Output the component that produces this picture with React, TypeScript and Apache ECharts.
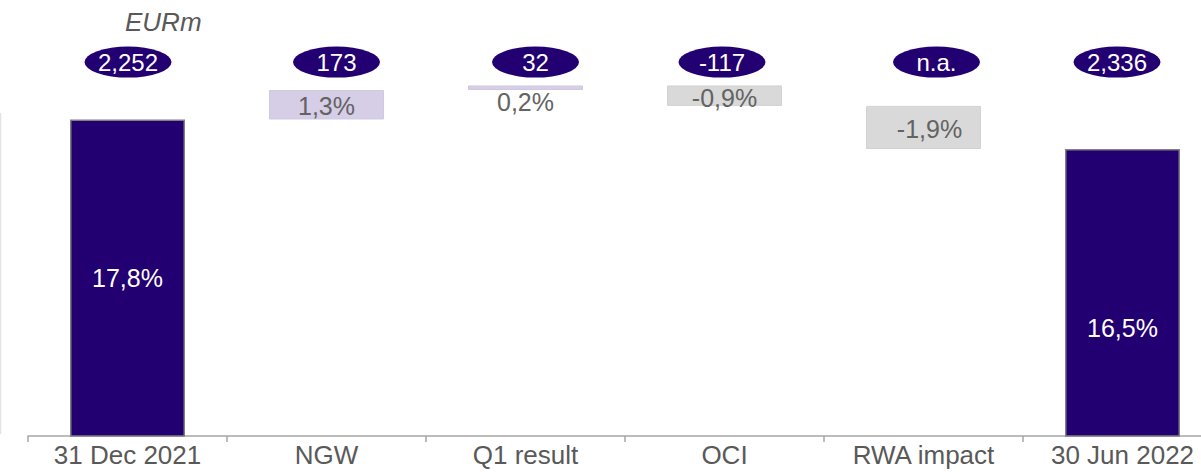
import React, { useEffect, useRef } from "react";
import * as echarts from "echarts";

// ---- data ----
const categories = ["31 Dec 2021", "NGW", "Q1 result", "OCI", "RWA impact", "30 Jun 2022"];
// CET1 ratio movements (percentage points); first and last are totals
const changes = [17.8, 1.3, 0.2, -0.9, -1.9, 16.5];
const isTotal = [true, false, false, false, false, true];
// capital amounts shown in the bubbles (EURm)
const capitalLabels = ["2,252", "173", "32", "-117", "n.a.", "2,336"];
const bubbleLevel = 20.33;
const unitLabel = "EURm";

// ---- styles ----
const FONT = "Liberation Sans, Arial, sans-serif";
const NAVY = "#230072";
const INC = "#d5cee6";
const DEC = "#d9d9d9";
const TEXT = "#595959";
const bubbleOffsets = [0.5, 10, 10, -2.5, 13, -5.5];
const labelTweaks: any[] = [
  { position: "inside", offset: [0, 0] },
  { position: "inside", offset: [0, 1] },
  { position: "bottom", distance: 0, offset: [0, 0] },
  { position: "inside", offset: [0, 2] },
  { position: "inside", offset: [6, 2] },
  { position: "inside", offset: [0, 35] },
];

function fmtPct(v: number) {
  return v.toFixed(1).replace(".", ",") + "%";
}

export default function App() {
  const ref = useRef<HTMLDivElement>(null);

  useEffect(() => {
    if (!ref.current) return;
    const chart = echarts.init(ref.current, undefined, { renderer: "svg" });

    // waterfall construction
    const base: number[] = [];
    const heights: number[] = [];
    let running = 0;
    changes.forEach((c, i) => {
      if (isTotal[i]) {
        base.push(0);
        heights.push(c);
        running = c;
      } else if (c >= 0) {
        base.push(running);
        heights.push(c);
        running += c;
      } else {
        running += c;
        base.push(running);
        heights.push(-c);
      }
    });

    const visibleData = heights.map((h, i) => {
      const total = isTotal[i];
      const color = total ? NAVY : changes[i] >= 0 ? INC : DEC;
      return {
        value: h,
        itemStyle: {
          color,
          borderColor: total ? "#7f7f7f" : color === INC ? "#cfc8e0" : "#d2d2d2",
          borderWidth: total ? 1.5 : 1,
        },
        label: {
          show: true,
          formatter: fmtPct(changes[i]),
          color: total ? "#ffffff" : "#636363",
          fontSize: 25,
          fontFamily: FONT,
          ...labelTweaks[i],
        },
      };
    });

    const bubbleData = categories.map((c, i) => ({
      value: [c, bubbleLevel],
      symbolOffset: [bubbleOffsets[i], 0],
      label: {
        show: true,
        position: "inside",
        formatter: capitalLabels[i],
        color: "#ffffff",
        fontSize: 24,
        fontFamily: FONT,
      },
    }));

    chart.setOption({
      animation: false,
      backgroundColor: "#ffffff",
      title: {
        text: unitLabel,
        left: 120,
        top: 4,
        textStyle: {
          fontSize: 26,
          fontStyle: "italic",
          fontWeight: "normal",
          color: TEXT,
          fontFamily: FONT,
        },
      },
      grid: { left: 28, right: 0, top: 24.2, bottom: 36, containLabel: false },
      xAxis: {
        type: "category",
        data: categories,
        axisLine: { show: true, lineStyle: { color: "#a6a6a6", width: 1.5 } },
        axisTick: { show: true, length: 6, lineStyle: { color: "#a6a6a6", width: 1.5 } },
        axisLabel: { color: TEXT, fontSize: 26, fontFamily: FONT, margin: 6, interval: 0 },
      },
      yAxis: {
        type: "value",
        min: 3.85,
        max: 22,
        show: false,
        splitLine: { show: false },
      },
      series: [
        {
          type: "bar",
          stack: "wf",
          data: base,
          barWidth: 115,
          itemStyle: { color: "transparent" },
          silent: true,
        },
        {
          type: "bar",
          stack: "wf",
          data: visibleData,
          barWidth: 115,
        },
        {
          type: "scatter",
          data: bubbleData,
          symbol: "path://M0 50 A50 50 0 1 1 100 50 A50 50 0 1 1 0 50 Z",
          symbolSize: [87, 31],
          itemStyle: { color: NAVY, opacity: 1 },
          z: 5,
        },
      ],
      graphic: [
        {
          type: "line",
          shape: { x1: 0.5, y1: 113, x2: 0.5, y2: 434 },
          style: { stroke: "#e3e3e3", lineWidth: 1.5 },
        },
      ],
    });

    return () => chart.dispose();
  }, []);

  return (
    <div
      style={{
        position: "absolute",
        left: 0,
        top: 0,
        width: 1201,
        height: 472,
        overflow: "hidden",
      }}
    >
      <div ref={ref} style={{ width: 1222, height: 472 }} />
    </div>
  );
}
